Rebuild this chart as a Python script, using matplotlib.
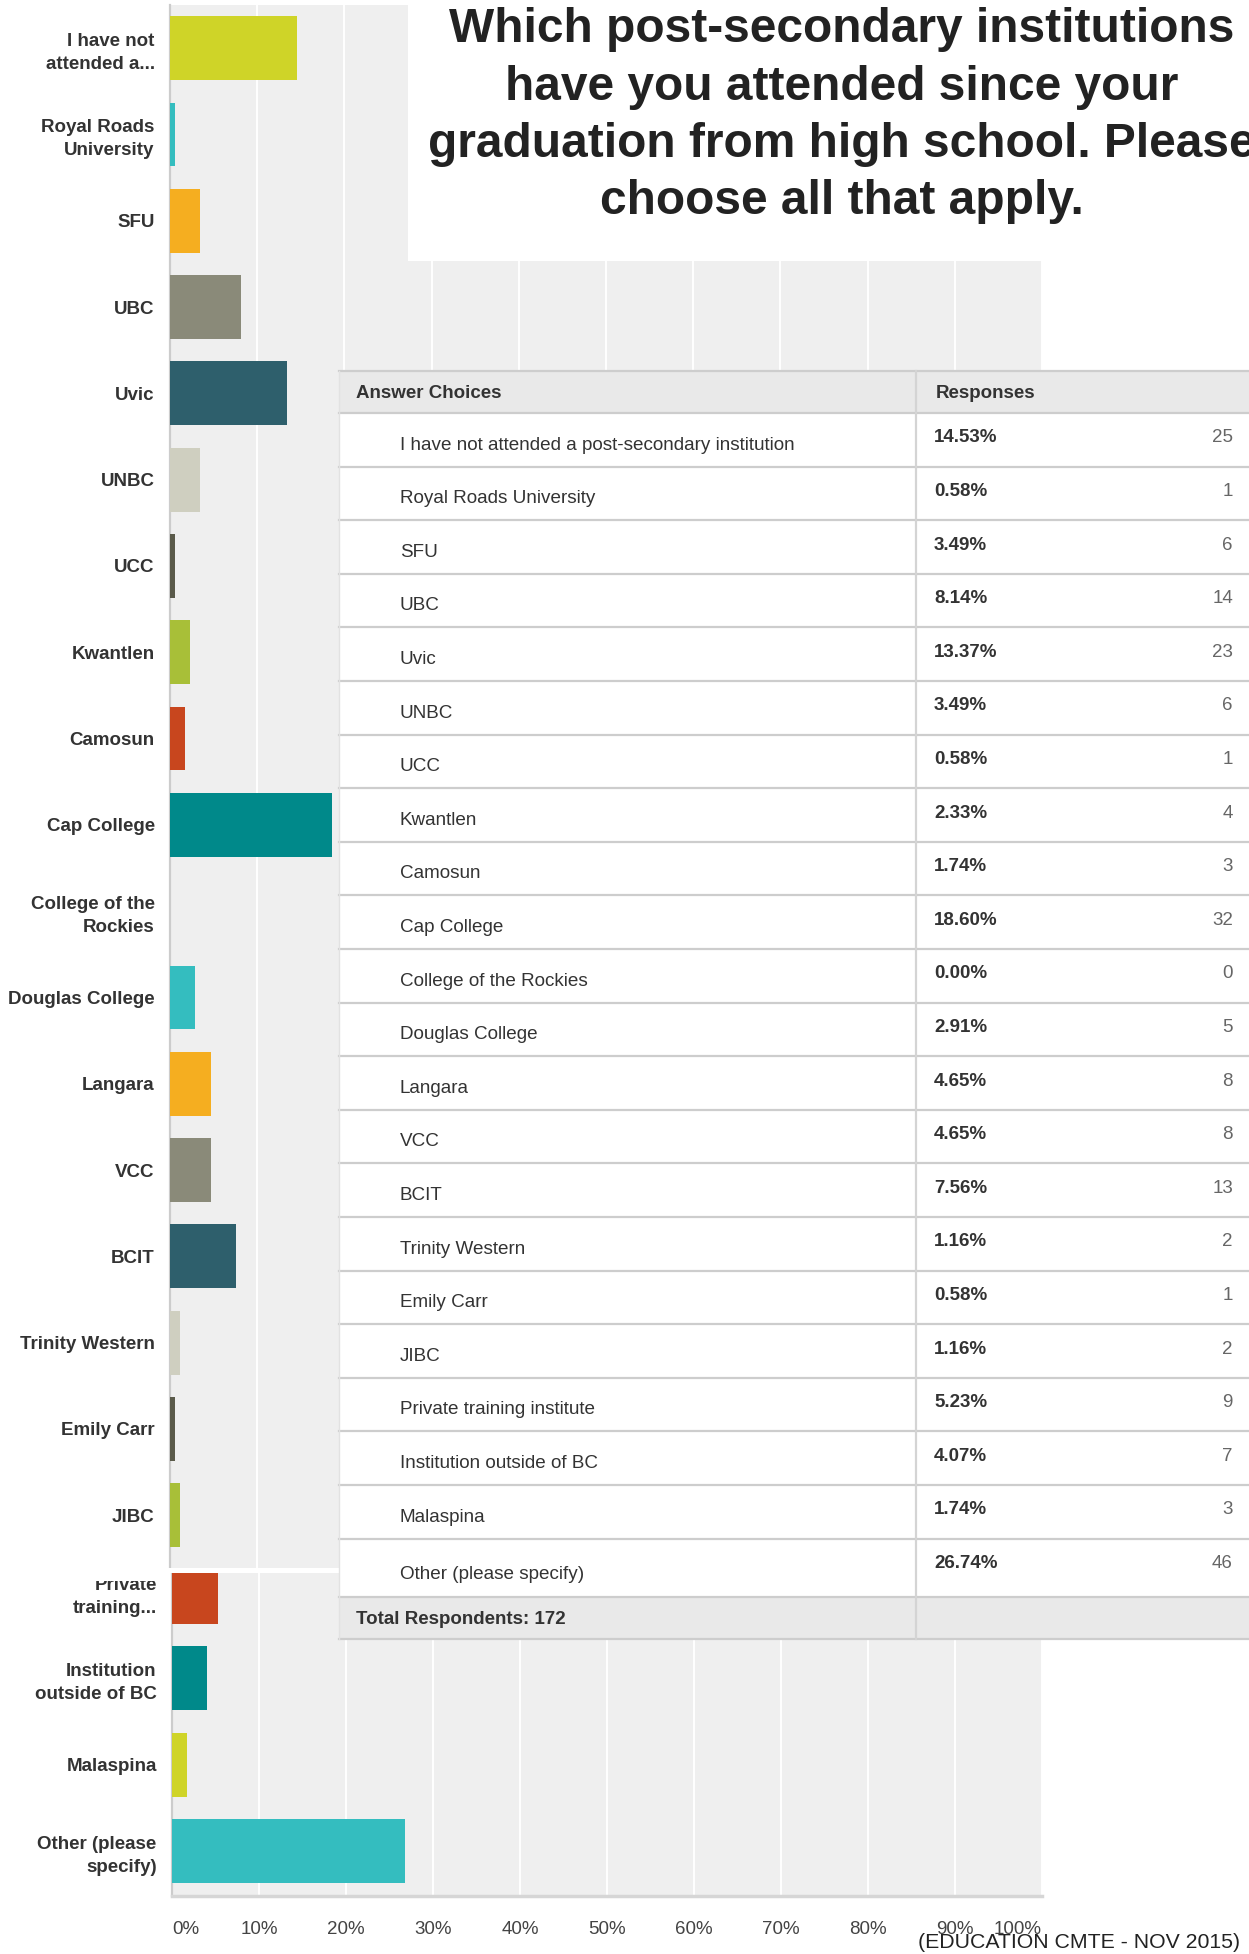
import numpy as np
import matplotlib.pyplot as plt
from matplotlib.patches import Rectangle

plt.rcParams['font.family'] = ['Liberation Sans', 'DejaVu Sans']

# survey data
choices = ["I have not attended a post-secondary institution", "Royal Roads University",
           "SFU", "UBC", "Uvic", "UNBC", "UCC", "Kwantlen", "Camosun", "Cap College",
           "College of the Rockies", "Douglas College", "Langara", "VCC", "BCIT",
           "Trinity Western", "Emily Carr", "JIBC", "Private training institute",
           "Institution outside of BC", "Malaspina", "Other (please specify)"]
axis_labels = ["I have not\nattended a...", "Royal Roads\nUniversity", "SFU", "UBC", "Uvic",
               "UNBC", "UCC", "Kwantlen", "Camosun", "Cap College", "College of the\nRockies",
               "Douglas College", "Langara", "VCC", "BCIT", "Trinity Western", "Emily Carr",
               "JIBC", "Private\ntraining...", "Institution\noutside of BC", "Malaspina",
               "Other (please\nspecify)"]
percents = [14.53, 0.58, 3.49, 8.14, 13.37, 3.49, 0.58, 2.33, 1.74, 18.60, 0.00,
            2.91, 4.65, 4.65, 7.56, 1.16, 0.58, 1.16, 5.23, 4.07, 1.74, 26.74]
counts = [25, 1, 6, 14, 23, 6, 1, 4, 3, 32, 0, 5, 8, 8, 13, 2, 1, 2, 9, 7, 3, 46]
total_respondents = 172
x_ticks = list(range(0, 101, 10))
palette = ["#cfd428", "#34bdbf", "#f5ae20", "#8a8a79", "#2e5f6c",
           "#cfcfc0", "#5a5a4a", "#a8bf38", "#c8461e", "#00898a"]
title_lines = ["Which post-secondary institutions", "have you attended since your",
               "graduation from high school. Please", "choose all that apply."]
footer = "(EDUCATION CMTE - NOV 2015)"

W, H = 1249, 1954
fig = plt.figure(figsize=(W / 100, H / 100), dpi=100)

ROW = 86.3   # pixel pitch of one category
TOP = 5


def bar_axes(x0, y0, y1, shift, show_x):
    ax = fig.add_axes([x0 / W, 1 - y1 / H, (1042 - x0) / W, (y1 - y0) / H])
    ax.set_facecolor('#efefef')
    y = np.arange(len(percents))
    colors = [palette[i % len(palette)] for i in range(len(percents))]
    ax.barh(y, percents, height=0.74, color=colors, zorder=3)
    ax.set_yticks(y)
    ax.set_yticklabels(axis_labels, fontsize=13.5, fontweight='bold', color='#333333',
                       linespacing=1.45)
    ax.set_xticks(x_ticks)
    ax.set_xticklabels([f"{t}%" for t in x_ticks], fontsize=13.5, color='#444444')
    ax.set_xlim(0, 100)
    ax.set_ylim((y1 - TOP - shift) / ROW - 0.5, (y0 - TOP - shift) / ROW - 0.5)
    ax.tick_params(length=0, axis='y', pad=11)
    ax.tick_params(length=0, axis='x', pad=18, labelbottom=show_x)
    ax.xaxis.grid(True, color='white', lw=1.4)
    ax.set_axisbelow(True)
    for s in ['top', 'right', 'bottom']:
        ax.spines[s].set_visible(False)
    ax.spines['left'].set_color('#cccccc')
    ax.spines['left'].set_linewidth(1.6)
    if show_x:
        ax.spines['bottom'].set_visible(True)
        ax.spines['bottom'].set_color('#d6d6d6')
        ax.spines['bottom'].set_linewidth(2.5)
        lbls = ax.get_xticklabels()
        lbls[0].set_horizontalalignment('left')
        lbls[-1].set_horizontalalignment('right')
    return ax


ax_top = bar_axes(170, 5, 1568, 0, False)
ax_bot = bar_axes(172, 1573, 1896, -9.5, True)

# overlay in pixel coordinates: title box, table, footer
ov = fig.add_axes([0, 0, 1, 1], zorder=10)
ov.set_xlim(0, W)
ov.set_ylim(H, 0)
ov.axis('off')

# seam between the two pasted screenshots
ov.add_patch(Rectangle((0, 1568), 339, 5, color='white', lw=0))
ov.add_patch(Rectangle((0, 1545), 168, 36, color='white', lw=0))

ov.add_patch(Rectangle((408, 0), 1042 - 408, 261, color='white', lw=0))
for i, line in enumerate(title_lines):
    ov.text(842, 42 + i * 57.5, line, ha='center', va='baseline', fontsize=34.5,
            fontweight='bold', color='#222222')

T_L, T_R, T_DIV = 339, W, 916
HEAD_TOP, HEAD_BOT = 371, 413
ROW_H = 53.6
n = len(choices)
row_tops = [HEAD_BOT + ROW_H * k for k in range(n)]
other_bot = 1597
total_bot = 1639
line_c = '#cdcdcd'

ov.add_patch(Rectangle((T_L, HEAD_TOP), T_R - T_L, total_bot - HEAD_TOP, color='white', lw=0))
ov.add_patch(Rectangle((T_L, HEAD_TOP), T_R - T_L, HEAD_BOT - HEAD_TOP, color='#e9e9e9', lw=0))
ov.add_patch(Rectangle((T_L, other_bot), T_R - T_L, total_bot - other_bot, color='#e9e9e9', lw=0))
for yy in [HEAD_TOP, HEAD_BOT] + row_tops[1:] + [other_bot, total_bot]:
    ov.plot([T_L, T_R], [yy, yy], color=line_c, lw=1.6)
ov.plot([T_DIV, T_DIV], [HEAD_TOP, total_bot], color='#d4d4d4', lw=1.6)
ov.plot([T_L, T_L], [HEAD_TOP, total_bot], color='#e2e2e2', lw=1.0)

ov.text(356, 394, "Answer Choices", ha='left', va='center', fontsize=13.5,
        fontweight='bold', color='#333333')
ov.text(936, 394, "Responses", ha='left', va='center', fontsize=13.5,
        fontweight='bold', color='#333333')
for k in range(n):
    off = 36 if k == n - 1 else 32
    ov.text(400, row_tops[k] + off, choices[k], ha='left', va='center', fontsize=13.6,
            color='#333333')
    ov.text(934, row_tops[k] + 25, f"{percents[k]:.2f}%", ha='left', va='center',
            fontsize=13.5, fontweight='bold', color='#333333')
    ov.text(1233, row_tops[k] + 25, str(counts[k]), ha='right', va='center',
            fontsize=13.5, color='#666666')
ov.text(356, 1619, f"Total Respondents: {total_respondents}", ha='left', va='center',
        fontsize=13.5, fontweight='bold', color='#333333')

ov.text(1240, 1942, footer, ha='right', va='center', fontsize=15.3, color='#222222')

fig.savefig('out.png', dpi=100)
